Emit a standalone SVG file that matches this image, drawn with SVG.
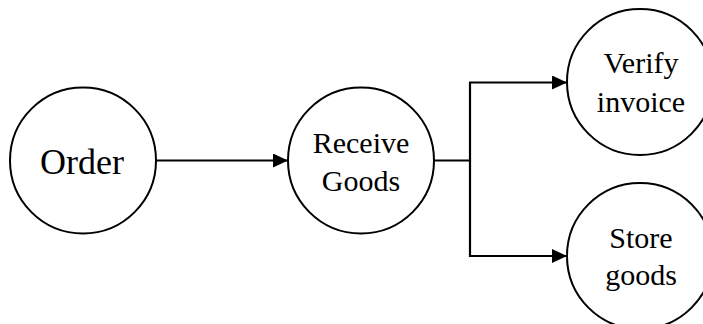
<svg xmlns="http://www.w3.org/2000/svg" width="703" height="324" viewBox="0 0 703 324">
<defs>
<marker id="arr" viewBox="0 0 15 14" refX="15" refY="7" markerWidth="15" markerHeight="14" markerUnits="userSpaceOnUse" orient="auto">
<path d="M0,0 L15,7 L0,14 Z" fill="#000"/>
</marker>
</defs>
<style>
.n{fill:#fff;stroke:#000;stroke-width:2}
.t{font-family:"Liberation Serif","Times New Roman",serif;fill:#000;text-anchor:middle}
.c{fill:none;stroke:#000;stroke-width:2.2}
</style>
<rect width="703" height="324" fill="#fff"/>
<g id="connectors">
<line class="c" x1="156" y1="160.5" x2="288" y2="160.5" marker-end="url(#arr)"/>
<polyline class="c" points="434,160.5 470,160.5 470,82.5 567,82.5" marker-end="url(#arr)"/>
<polyline class="c" points="470,160.5 470,256 567,256" marker-end="url(#arr)"/>
</g>
<g id="order">
<circle class="n" cx="83" cy="160.5" r="73"/>
<text class="t" x="82" y="174" font-size="36">Order</text>
</g>
<g id="receive-goods">
<circle class="n" cx="361" cy="160.5" r="73"/>
<text class="t" x="361" y="152.5" font-size="30">Receive</text>
<text class="t" x="361" y="190.5" font-size="30">Goods</text>
</g>
<g id="verify-invoice">
<circle class="n" cx="640" cy="82" r="73"/>
<text class="t" x="641" y="73" font-size="30">Verify</text>
<text class="t" x="641" y="111.5" font-size="30">invoice</text>
</g>
<g id="store-goods">
<circle class="n" cx="640" cy="256" r="73"/>
<text class="t" x="641" y="248" font-size="30">Store</text>
<text class="t" x="641" y="285" font-size="30">goods</text>
</g>
</svg>
